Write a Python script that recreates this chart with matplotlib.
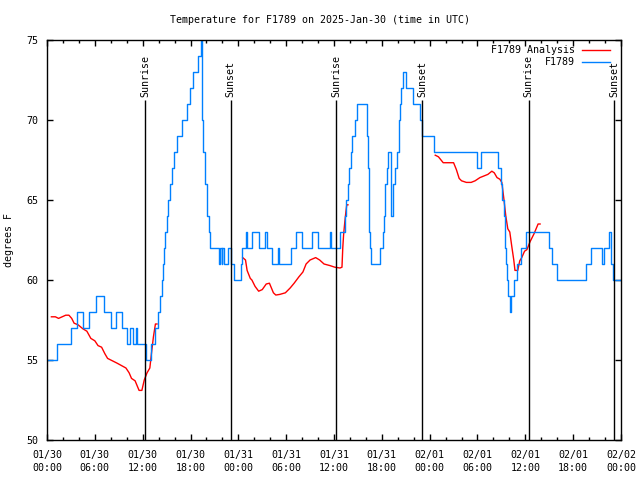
import matplotlib
matplotlib.use("Agg")
import matplotlib.pyplot as plt
from matplotlib.lines import Line2D
import numpy as np

# hours since 2025-01-30 00:00 UTC
obs_hours = [0.0, 1.2, 3.0, 3.8, 4.5, 5.3, 6.2, 7.2, 8.0, 8.6, 9.45, 10.05, 10.35, 10.8,
             11.2, 11.35, 12.4, 13.1, 13.5, 13.9, 14.2, 14.4, 14.55, 14.7, 14.85, 15.0,
             15.2, 15.4, 15.7, 15.95, 16.3, 16.95, 17.5, 17.9, 18.35, 18.9, 19.35, 19.5,
             19.6, 19.85, 20.1, 20.3, 20.5, 21.6, 21.7, 21.9, 22.0, 22.2, 22.7, 23.1,
             23.4, 24.3, 24.45, 24.95, 25.05, 25.7, 26.55, 27.4, 27.55, 28.25, 29.0,
             29.15, 30.55, 31.2, 31.95, 33.3, 34.05, 35.45, 35.6, 36.75, 37.4, 37.55,
             37.75, 37.9, 38.1, 38.3, 38.6, 38.9, 40.15, 40.25, 40.35, 40.45, 40.55,
             40.65, 41.8, 42.1, 42.3, 42.45, 42.6, 42.8, 42.95, 43.1, 43.2, 43.45, 43.6,
             43.9, 44.1, 44.3, 44.45, 44.6, 45.0, 45.95, 46.75, 47.05, 48.6, 53.95,
             54.45, 56.6, 56.95, 57.1, 57.3, 57.45, 57.6, 57.7, 57.8, 58.05, 58.15,
             58.6, 58.95, 59.5, 60.1, 63.0, 63.4, 64.0, 67.6, 68.2, 69.6, 69.9, 70.5,
             70.7, 71.0, 72.0]
obs_temps = [55, 56, 57, 58, 57, 58, 59, 58, 57, 58, 57, 56, 57, 56,
             57, 56, 55, 56, 57, 58, 59, 60, 61, 62, 63, 64,
             65, 66, 67, 68, 69, 70, 71, 72, 73, 74, 75, 70,
             68, 66, 64, 63, 62, 61, 62, 61, 62, 61, 62, 61,
             60, 61, 62, 63, 62, 63, 62, 63, 62, 61, 62,
             61, 62, 63, 62, 63, 62, 63, 62, 63, 64, 65,
             66, 67, 68, 69, 70, 71, 69, 67, 65, 63, 62,
             61, 62, 63, 64, 66, 67, 68, 68, 65, 64, 66, 67,
             68, 70, 71, 72, 73, 72, 71, 70, 69, 68, 67,
             68, 67, 66, 65, 64, 62, 61, 60, 59, 58, 59,
             60, 61, 62, 63, 62, 61, 60, 61, 62, 61, 62, 63,
             61, 60, 60]

ana_hours_1 = [0.55, 1.05, 1.45, 1.9, 2.35, 2.75, 3.1, 3.4, 3.9, 4.5, 5.0, 5.5, 6.0, 6.4,
               6.85, 7.25, 7.6, 8.2, 8.8, 9.35, 9.9, 10.3, 10.6, 11.05, 11.55, 11.9,
               12.2, 12.55, 12.9, 13.1, 13.35, 13.6, 13.8]
ana_temps_1 = [57.7, 57.7, 57.6, 57.7, 57.8, 57.8, 57.6, 57.3, 57.2, 56.95, 56.8, 56.35,
               56.2, 55.9, 55.8, 55.4, 55.1, 54.95, 54.8, 54.65, 54.5, 54.2, 53.85, 53.7,
               53.1, 53.1, 53.75, 54.2, 54.5, 55.4, 56.45, 57.25, 57.25]
ana_hours_2 = [24.55, 24.9, 25.1, 25.5, 25.7, 26.1, 26.55, 27.0, 27.5, 27.9, 28.15, 28.4,
               28.7, 29.2, 29.9, 30.5, 31.0, 31.6, 32.1, 32.5, 33.0, 33.7, 34.2, 34.75,
               35.5, 36.1, 36.75, 37.0, 37.1, 37.2, 37.35, 37.5, 37.6, 37.75]
ana_temps_2 = [61.4, 61.25, 60.6, 60.1, 60.0, 59.6, 59.3, 59.4, 59.75, 59.8, 59.5, 59.2,
               59.06, 59.1, 59.2, 59.5, 59.8, 60.2, 60.5, 61.0, 61.25, 61.4, 61.25, 61.0,
               60.9, 60.8, 60.75, 60.8, 62.0, 62.8, 63.6, 64.3, 64.7, 64.7]
ana_hours_3 = [48.7, 49.1, 49.7, 50.35, 51.0, 51.35, 51.7, 52.0, 52.6, 53.2, 53.7, 54.3,
               54.8, 55.3, 55.8, 56.1, 56.45, 56.8, 57.05, 57.3, 57.55, 57.8, 58.05, 58.3,
               58.55, 58.7, 59.05, 59.3, 59.55, 59.9, 60.2, 60.6, 61.1, 61.6, 61.85]
ana_temps_3 = [67.8, 67.7, 67.33, 67.33, 67.33, 66.9, 66.35, 66.2, 66.1, 66.1, 66.2, 66.4,
               66.5, 66.6, 66.8, 66.7, 66.4, 66.3, 66.1, 65.1, 64.0, 63.2, 63.0, 62.1,
               61.25, 60.6, 60.6, 61.2, 61.4, 61.8, 61.9, 62.4, 62.9, 63.5, 63.5]

sun_hours = [12.35, 23.05, 36.26, 47.1, 60.4, 71.17]
sun_labels = ["Sunrise", "Sunset", "Sunrise", "Sunset", "Sunrise", "Sunset"]

tick_labels = ["01/30\n00:00", "01/30\n06:00", "01/30\n12:00", "01/30\n18:00",
               "01/31\n00:00", "01/31\n06:00", "01/31\n12:00", "01/31\n18:00",
               "02/01\n00:00", "02/01\n06:00", "02/01\n12:00", "02/01\n18:00",
               "02/02\n00:00"]

red = '#ff0000'
blue = '#0080ff'

plt.rcParams['font.family'] = 'DejaVu Sans Mono'
plt.rcParams['font.size'] = 7.2

fig = plt.figure(figsize=(6.4, 4.8), dpi=100)
ax = fig.add_axes([47 / 640, 40 / 480, 574 / 640, 400 / 480])

ax.plot(ana_hours_1, ana_temps_1, color=red, lw=1)
ax.plot(ana_hours_2, ana_temps_2, color=red, lw=1)
ax.plot(ana_hours_3, ana_temps_3, color=red, lw=1)
ax.plot(obs_hours, obs_temps, color=blue, lw=1, drawstyle='steps-post')

ax.vlines(sun_hours, 50, 71.25, color='black', lw=1)
for h, lab in zip(sun_hours, sun_labels):
    ax.text(h, 71.45, lab, rotation=90, ha='center', va='bottom')

ax.set_xlim(0, 72)
ax.set_ylim(50, 75)
ax.set_xticks(np.arange(0, 73, 6))
ax.set_xticklabels(tick_labels, linespacing=1.35)
ax.set_xticks(np.arange(0, 73, 2), minor=True)
ax.set_yticks(np.arange(50, 76, 5))
ax.tick_params(which='both', direction='in', top=True, right=True, width=1)
ax.tick_params(which='major', length=4.5, pad=7)
ax.tick_params(which='minor', length=2.5)
ax.tick_params(axis='y', pad=6)
for s in ax.spines.values():
    s.set_linewidth(1)

ax.set_ylabel('degrees F', labelpad=9)
fig.text(0.5, 1 - 20 / 480, 'Temperature for F1789 on 2025-Jan-30 (time in UTC)',
         ha='center', va='center')

# gnuplot style key: right aligned text, sample line to the right
key_rows = [('F1789 Analysis', red, 0.976), ('F1789', blue, 0.945)]
for lab, col, ky in key_rows:
    ax.text(0.92, ky, lab, ha='right', va='center', transform=ax.transAxes)
    ax.add_line(Line2D([0.932, 0.981], [ky, ky], color=col, lw=1, transform=ax.transAxes))

fig.savefig('out.png', dpi=100)
